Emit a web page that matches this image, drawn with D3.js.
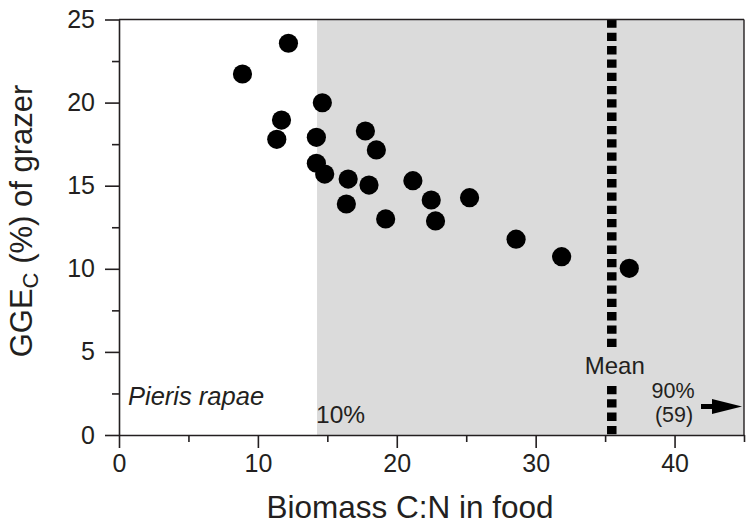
<!DOCTYPE html>
<html><head><meta charset="utf-8">
<script src="https://cdn.jsdelivr.net/npm/d3@7"></script>
<style>
body{margin:0;background:#fff;}
svg text{font-family:"Liberation Sans",Arial,Helvetica,sans-serif;fill:#231f20;}
</style></head>
<body><svg id="c" width="750" height="526"></svg>
<script>
// Data
const cnFood = [8.89,12.2,11.7,11.36,14.64,14.21,14.21,14.81,16.5,16.37,17.74,18.53,18.0,19.2,21.16,22.48,22.79,25.24,28.59,31.87,36.74];
const ggeC   = [21.72,23.57,18.95,17.79,19.99,17.91,16.35,15.7,15.4,13.9,18.29,17.15,15.04,13.0,15.3,14.14,12.88,14.28,11.78,10.73,10.03];
const xMajorTicks = [0,10,20,30,40];
const xMinorTicks = [5,15,25,35,45];
const yMajorTicks = [0,5,10,15,20,25];
const yMinorTicks = [2.5,7.5,12.5,17.5,22.5];
const shadeStart = 14.26;   // 10th percentile
const meanCN = 35.48;
const xDomain = [0,45], yDomain = [0,25];

const svg = d3.select("#c");
const x = d3.scaleLinear().domain(xDomain).range([119,744]);
const y = d3.scaleLinear().domain(yDomain).range([435,19.5]);
const ink = "#231f20";

// shading
svg.append("rect").attr("x",x(shadeStart)).attr("y",y(25))
  .attr("width",x(45)-x(shadeStart)).attr("height",y(0)-y(25)).attr("fill","#dbdbdb");

// mean line (interrupted by label)
const meanSegs = [[25, y.invert(349)],[y.invert(386),0]];
meanSegs.forEach(s=>{
  svg.append("line").attr("x1",x(meanCN)).attr("x2",x(meanCN))
    .attr("y1",y(s[0])).attr("y2",y(s[1]))
    .attr("stroke","#000").attr("stroke-width",9.5).attr("stroke-dasharray","8.3,5");
});

// frame top/right
svg.append("line").attr("x1",x(0)).attr("x2",x(45)).attr("y1",y(25)).attr("y2",y(25)).attr("stroke",ink).attr("stroke-width",1.6);
svg.append("line").attr("x1",x(45)).attr("x2",x(45)).attr("y1",y(25)).attr("y2",y(0)).attr("stroke",ink).attr("stroke-width",1.4);

// axes
function styleAxis(g){
  g.select(".domain").attr("stroke",ink).attr("stroke-width",1.6);
  g.selectAll(".tick line").attr("stroke",ink).attr("stroke-width",1.6);
  g.selectAll(".tick text").attr("fill",ink).style("font-size","25px")
    .style("font-family","'Liberation Sans',Arial,Helvetica,sans-serif");
}
const gx = svg.append("g").attr("transform",`translate(0,${y(0)})`)
  .call(d3.axisBottom(x).tickValues(xMajorTicks).tickSize(13).tickPadding(6).tickSizeOuter(0).tickFormat(d3.format("d")));
styleAxis(gx);
gx.selectAll(".tick text").attr("dy","0.71em");
const gxm = svg.append("g").attr("transform",`translate(0,${y(0)})`)
  .call(d3.axisBottom(x).tickValues(xMinorTicks).tickSize(7).tickFormat(""));
styleAxis(gxm); gxm.select(".domain").remove();

const gy = svg.append("g").attr("transform",`translate(${x(0)},0)`)
  .call(d3.axisLeft(y).tickValues(yMajorTicks).tickSize(14).tickPadding(10).tickSizeOuter(0).tickFormat(d3.format("d")));
styleAxis(gy);
const gym = svg.append("g").attr("transform",`translate(${x(0)},0)`)
  .call(d3.axisLeft(y).tickValues(yMinorTicks).tickSize(7).tickFormat(""));
styleAxis(gym); gym.select(".domain").remove();

// points
svg.append("g").selectAll("circle").data(cnFood.map((v,i)=>[v,ggeC[i]])).join("circle")
  .attr("cx",d=>x(d[0])).attr("cy",d=>y(d[1])).attr("r",9.6).attr("fill","#000");

// labels
svg.append("text").attr("x",410).attr("y",518).attr("text-anchor","middle")
  .style("font-size","31.5px").text("Biomass C:N in food");
const yt = svg.append("text").attr("transform",`translate(32,${221}) rotate(-90)`).attr("text-anchor","middle")
  .style("font-size","31px");
yt.append("tspan").text("GGE");
yt.append("tspan").attr("dy",6).style("font-size","22px").text("C");
yt.append("tspan").attr("dy",-6).text(" (%) of grazer");

svg.append("text").attr("x",128).attr("y",405).style("font-size","25.5px").style("font-style","italic").text("Pieris rapae");
svg.append("text").attr("x",x(shadeStart)-1).attr("y",423).style("font-size","24.5px").text("10%");
svg.append("text").attr("x",x(meanCN)+3).attr("y",374).attr("text-anchor","middle").style("font-size","24px").text("Mean");
svg.append("text").attr("x",673).attr("y",397.5).attr("text-anchor","middle").style("font-size","21.5px").text("90%");
svg.append("text").attr("x",674).attr("y",422).attr("text-anchor","middle").style("font-size","21.5px").text("(59)");

// arrow
svg.append("line").attr("x1",701).attr("x2",722).attr("y1",406.5).attr("y2",406.5).attr("stroke","#000").attr("stroke-width",5);
svg.append("path").attr("d","M712,399 L742,406.5 L712,414 Z").attr("fill","#000");
</script></body></html>
